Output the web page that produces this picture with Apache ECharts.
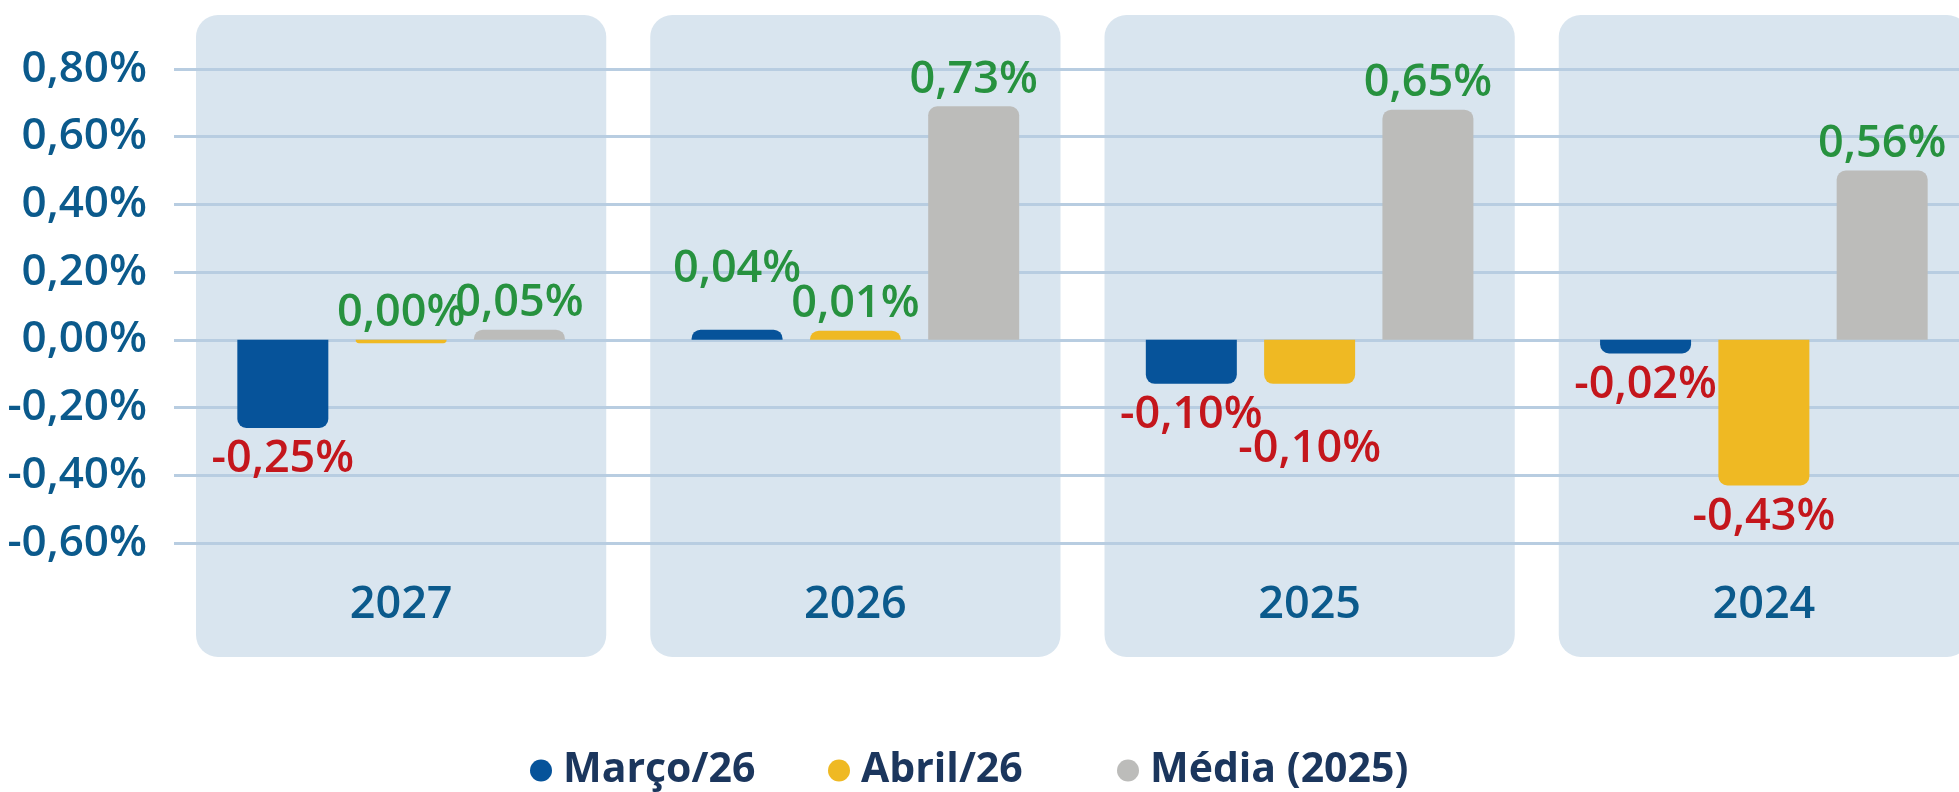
<!DOCTYPE html>
<html>
<head>
<meta charset="utf-8">
<script src="https://cdn.jsdelivr.net/npm/echarts@6/dist/echarts.min.js"></script>
<style>
html, body { margin: 0; padding: 0; background: #fff; }
#chart { width: 1959px; height: 792px; }
</style>
</head>
<body>
<div id="chart"></div>
<script>
var years = ['2027', '2026', '2025', '2024'];
var seriesNames = ['Março/26', 'Abril/26', 'Média (2025)'];
// bar heights as they are drawn (in %)
var marco = [-0.26, 0.03, -0.13, -0.04];
var abril = [-0.01, 0.027, -0.13, -0.43];
var media = [0.03, 0.69, 0.68, 0.50];
// values printed on the bars (in %)
var marcoLabels = [-0.25, 0.04, -0.10, -0.02];
var abrilLabels = [0.00, 0.01, -0.10, -0.43];
var mediaLabels = [0.05, 0.73, 0.65, 0.56];
// y axis
var yMin = -0.6, yMax = 0.8, yStep = 0.2;

var fontFam = '"Open Sans", sans-serif';
var green = '#27923f', red = '#c4161c';
var barColors = ['#06539a', '#efb923', '#bcbcba'];
var legendLeft = [525, 823, 1112];

function fmt(v) {
    return v.toFixed(2).replace('.', ',') + '%';
}

var allValues = [marco, abril, media];
var allLabels = [marcoLabels, abrilLabels, mediaLabels];

// where each label sits (value of the bar end it is attached to)
function anchor(s, i) {
    var v = allValues[s][i];
    return allLabels[s][i] >= 0 ? Math.max(v, 0) : Math.min(v, 0);
}

// push apart labels of neighbouring bars that would land on each other
function labelShift(s, i) {
    var up = allLabels[s][i] >= 0;
    var dir = up ? -1 : 1;
    var nb = [s - 1, s + 1];
    for (var k = 0; k < nb.length; k++) {
        var o = nb[k];
        if (o < 0 || o > 2) continue;
        if ((allLabels[o][i] >= 0) !== up) continue;
        var a = anchor(s, i), b = anchor(o, i);
        if (Math.abs(a - b) >= 0.02) continue;
        var farther = Math.abs(a) > Math.abs(b) || (Math.abs(a) === Math.abs(b) && s > o);
        if (farther) return dir * 34;
    }
    return 0;
}

function barSeries(s) {
    var labels = allLabels[s];
    return {
        name: seriesNames[s],
        type: 'bar',
        barWidth: 91,
        barGap: '30%',
        itemStyle: { color: barColors[s] },
        label: {
            show: true,
            fontSize: 45,
            fontWeight: 600,
            fontFamily: fontFam,
            formatter: function (p) {
                return fmt(labels[p.dataIndex]);
            }
        },
        data: allValues[s].map(function (v, i) {
            var up = labels[i] >= 0;
            return {
                value: v,
                itemStyle: { borderRadius: v >= 0 ? [9, 9, 0, 0] : [0, 0, 9, 9] },
                label: {
                    position: up ? 'top' : 'bottom',
                    distance: up ? 4 : 9,
                    color: up ? green : red,
                    offset: [0, labelShift(s, i)]
                }
            };
        })
    };
}

// one legend block per series, placed like the original
var legends = seriesNames.map(function (name, s) {
    return {
        data: [name],
        left: legendLeft[s],
        top: 745,
        icon: 'circle',
        itemWidth: 22,
        itemHeight: 22,
        textStyle: {
            fontSize: 41,
            fontWeight: 700,
            fontFamily: fontFam,
            color: '#1b365d',
            padding: [0, 0, 0, 6]
        }
    };
});

var myChart = echarts.init(document.getElementById('chart'));
var option = {
    backgroundColor: '#fff',
    animation: false,
    grid: {
        left: 174,
        width: 1817,
        top: 69,
        bottom: 249,
        containLabel: false,
        outerBoundsMode: 'none'
    },
    legend: legends,
    xAxis: {
        type: 'category',
        data: years,
        axisLine: { show: false },
        axisTick: { show: false },
        axisLabel: {
            margin: 40,
            fontSize: 45,
            fontWeight: 600,
            fontFamily: fontFam,
            color: '#0b5a8c'
        }
    },
    yAxis: {
        type: 'value',
        min: yMin,
        max: yMax,
        interval: yStep,
        axisLine: { show: false },
        axisTick: { show: false },
        axisLabel: {
            margin: 27,
            fontSize: 44,
            fontWeight: 600,
            fontFamily: fontFam,
            color: '#0b5a8c',
            formatter: function (v) {
                return fmt(v);
            }
        },
        splitLine: {
            lineStyle: { color: '#b8cde1', width: 3 }
        }
    },
    series: [
        {
            // rounded panels behind each year
            type: 'custom',
            z: -1,
            silent: true,
            encode: { x: 0, y: 1 },
            renderItem: function (params, api) {
                var c = api.coord([api.value(0), 0]);
                var bw = api.size([1, 0])[0];
                var cs = params.coordSys;
                return {
                    type: 'rect',
                    shape: {
                        x: c[0] - bw / 2 + 22,
                        y: cs.y - 54,
                        width: bw - 44,
                        height: cs.height + 168,
                        r: 22
                    },
                    style: { fill: '#d9e5ef' }
                };
            },
            data: years.map(function (y, i) { return [i, 0]; })
        },
        barSeries(0),
        barSeries(1),
        barSeries(2)
    ]
};
myChart.setOption(option);
</script>
</body>
</html>
